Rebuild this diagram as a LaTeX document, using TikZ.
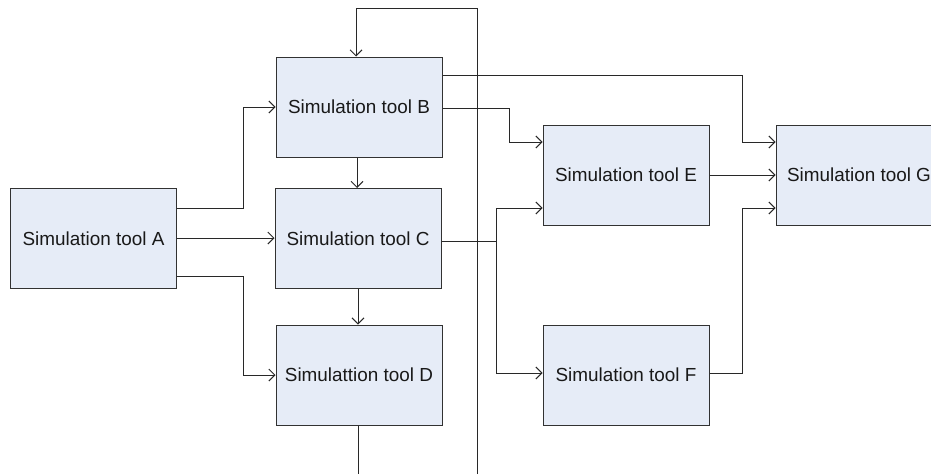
\documentclass[tikz,border=0pt]{standalone}
\usepackage{fontspec}
\setmainfont{Liberation Sans}
\usetikzlibrary{arrows.meta}
\definecolor{boxfill}{RGB}{230,236,247}
\definecolor{boxline}{RGB}{50,50,50}
\definecolor{wire}{RGB}{40,40,40}
\tikzset{
  tool/.style={draw=boxline, line width=1pt, fill=boxfill, minimum width=166pt, minimum height=100pt, inner sep=0pt, font=\fontsize{18.9}{22}\selectfont, text=black!90},
  conn/.style={draw=wire, line width=1pt, -{Straight Barb[length=6pt,width=12pt]}},
  wireonly/.style={draw=wire, line width=1pt}
}
\begin{document}
\begin{tikzpicture}[x=1pt,y=-1pt]
\useasboundingbox (0,0) rectangle (931,474);
\clip (0,0) rectangle (931,474);
\node[tool] (A) at (93.5,238.5) {Simulation tool A};
\node[tool] (B) at (359,107) {Simulation tool B};
\node[tool] (C) at (358,238.5) {Simulation tool C};
\node[tool] (D) at (359,375) {Simulattion tool D};
\node[tool] (E) at (626,175) {Simulation tool E};
\node[tool] (F) at (626,375) {Simulation tool F};
\node[tool] (G) at (859,175) {Simulation tool G};
\coordinate (loopfoot) at (477,474);
\coordinate (dfoot) at (358,474);
% A outputs
\draw[conn] (A.east |- 0,208) -- (243,208) |- (B.west);
\draw[conn] (A.east |- 0,238) -- (C.west |- 0,238);
\draw[conn] (A.east |- 0,276) -- (243,276) |- (D.west);
% vertical chain
\draw[conn] (B.south -| 357,0) -- (C.north -| 357,0);
\draw[conn] (C.south -| 358,0) -- (D.north -| 358,0);
\draw[wireonly] (D.south -| 358,0) -- (dfoot);
% feedback loop
\draw[conn] (loopfoot) -- (477,8) -| (B.north -| 356,0);
% B outputs
\draw[conn] (B.east |- 0,108) -- (509,108) |- (E.west |- 0,142);
\draw[conn] (B.east |- 0,75) -- (742,75) |- (G.west |- 0,142);
% C outputs
\draw[conn] (C.east |- 0,241) -- (496,241) |- (E.west |- 0,208);
\draw[conn] (C.east |- 0,241) -- (496,241) |- (F.west |- 0,373);
% to G
\draw[conn] (E.east) -- (G.west);
\draw[conn] (F.east |- 0,373) -- (742,373) |- (G.west |- 0,208);
\end{tikzpicture}
\end{document}
